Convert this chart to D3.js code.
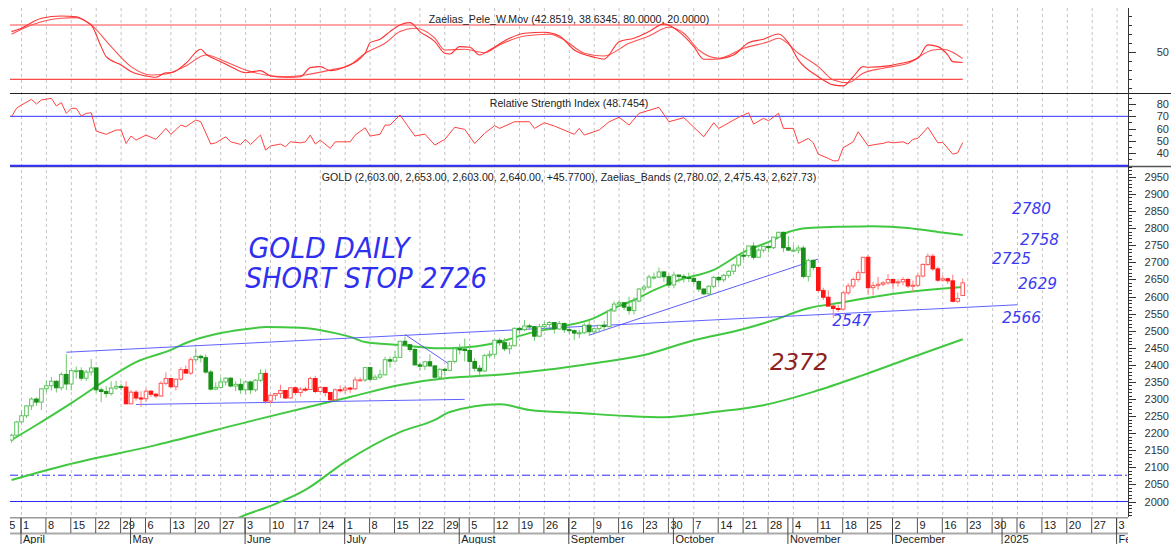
<!DOCTYPE html>
<html>
<head>
<meta charset="utf-8">
<script src="https://cdn.jsdelivr.net/npm/d3@7"></script>
<style>
body{margin:0;background:#fff}
svg{display:block;font-family:"Liberation Sans",Arial,sans-serif}
</style>
</head>
<body>
<div class="gold-chart"></div>
<script>
// trading calendar of the x axis (spot gold was shut on Good Friday)
const axisStart = "2024-03-25";
const axisEnd = "2025-02-07";
const closedDays = ["2024-03-29"];
const firstCandle = "2024-03-27";

// daily candles [open, high, low, close], one per trading day from firstCandle
const candles = [
[2180,2198,2172,2194],[2194,2236,2190,2233],
[2233,2266,2228,2251],[2251,2282,2244,2280],[2280,2305,2268,2300],[2300,2305,2280,2291],[2291,2331,2268,2330],
[2330,2354,2319,2339],[2339,2365,2325,2352],[2352,2355,2319,2333],[2333,2378,2325,2372],[2372,2431,2326,2344],
[2344,2386,2325,2383],[2383,2395,2360,2383],[2383,2393,2353,2361],[2361,2385,2353,2379],[2379,2417,2369,2391],
[2391,2392,2318,2327],[2327,2334,2291,2322],[2322,2338,2304,2316],[2316,2352,2310,2332],[2332,2353,2327,2337],
[2337,2345,2325,2335],[2335,2352,2285,2286],[2286,2326,2285,2320],[2320,2326,2295,2303],[2303,2323,2277,2301],
[2301,2331,2291,2323],[2323,2326,2306,2314],[2314,2318,2303,2309],[2309,2352,2306,2346],[2346,2378,2340,2360],
[2360,2362,2333,2336],[2336,2359,2325,2358],[2358,2393,2354,2386],[2386,2398,2373,2376],[2376,2422,2370,2415],
[2415,2450,2407,2425],[2425,2430,2407,2421],[2421,2431,2374,2379],[2379,2385,2325,2329],[2329,2349,2326,2334],
[2334,2364,2332,2350],[2350,2364,2340,2361],[2361,2364,2334,2338],[2338,2352,2323,2343],[2343,2360,2315,2327],
[2327,2354,2314,2350],[2350,2354,2315,2327],[2327,2358,2321,2355],[2355,2387,2350,2375],[2375,2387,2286,2294],
[2294,2313,2287,2311],[2311,2317,2297,2316],[2316,2342,2303,2325],[2325,2326,2300,2303],[2303,2333,2302,2333],
[2333,2334,2311,2319],[2319,2334,2307,2329],[2329,2336,2322,2328],[2328,2365,2327,2360],[2360,2368,2317,2322],
[2322,2337,2319,2334],[2334,2335,2308,2319],[2319,2320,2294,2298],[2298,2331,2294,2327],[2327,2340,2319,2326],
[2326,2340,2316,2332],[2332,2336,2318,2330],[2330,2365,2326,2356],[2356,2363,2352,2356],[2356,2392,2350,2392],
[2392,2393,2353,2358],[2358,2372,2355,2364],[2364,2386,2359,2371],[2371,2424,2369,2415],[2415,2424,2392,2411],
[2411,2440,2410,2422],[2422,2469,2421,2469],[2469,2483,2454,2459],[2459,2461,2438,2445],[2445,2451,2398,2400],
[2400,2406,2384,2396],[2396,2412,2385,2409],[2409,2431,2395,2397],[2397,2398,2353,2364],[2364,2390,2360,2387],
[2387,2392,2369,2384],[2384,2412,2381,2410],[2410,2451,2404,2447],[2447,2462,2431,2446],[2446,2477,2410,2442],
[2442,2461,2364,2410],[2410,2420,2381,2390],[2390,2400,2369,2382],[2382,2432,2379,2427],[2427,2442,2419,2431],
[2431,2475,2422,2472],[2472,2478,2457,2465],[2465,2478,2440,2447],[2447,2466,2431,2456],[2456,2509,2454,2507],
[2507,2510,2492,2503],[2503,2531,2499,2514],[2514,2520,2502,2512],[2512,2514,2470,2484],[2484,2520,2481,2512],
[2512,2527,2505,2518],[2518,2528,2507,2524],[2524,2525,2491,2505],[2505,2528,2503,2521],[2521,2524,2493,2503],
[2503,2507,2490,2500],[2500,2503,2472,2493],[2493,2503,2478,2494],[2494,2523,2490,2516],[2516,2529,2485,2497],
[2497,2508,2493,2506],[2506,2517,2494,2516],[2516,2529,2500,2512],[2512,2560,2510,2558],[2558,2586,2555,2578],
[2578,2590,2574,2582],[2582,2584,2560,2569],[2569,2600,2547,2559],[2559,2598,2547,2587],[2587,2625,2583,2622],
[2622,2634,2615,2628],[2628,2664,2624,2657],[2657,2670,2650,2657],[2657,2685,2654,2672],[2672,2674,2643,2658],
[2658,2665,2625,2634],[2634,2673,2624,2663],[2663,2664,2641,2659],[2659,2666,2641,2656],[2656,2670,2642,2653],
[2653,2660,2636,2644],[2644,2647,2614,2622],[2622,2624,2605,2608],[2608,2633,2603,2630],[2630,2661,2624,2656],
[2656,2660,2638,2649],[2649,2666,2642,2662],[2662,2677,2655,2674],[2674,2696,2664,2692],[2692,2722,2686,2721],
[2721,2740,2707,2720],[2720,2749,2714,2748],[2748,2759,2708,2715],[2715,2741,2714,2736],[2736,2748,2729,2747],
[2747,2749,2729,2743],[2743,2774,2739,2774],[2774,2790,2771,2788],[2788,2790,2730,2743],[2743,2777,2733,2736],
[2736,2750,2730,2736],[2736,2750,2726,2742],[2742,2749,2653,2659],[2659,2711,2644,2706],[2706,2709,2677,2685],
[2685,2686,2611,2618],[2618,2626,2590,2598],[2598,2618,2572,2572],[2572,2582,2537,2565],[2565,2576,2555,2563],
[2563,2614,2560,2611],[2611,2639,2605,2631],[2631,2656,2624,2650],[2650,2677,2643,2670],[2670,2716,2668,2715],
[2715,2721,2605,2626],[2626,2643,2603,2632],[2632,2658,2620,2636],[2636,2645,2630,2640],[2640,2666,2635,2650],
[2650,2651,2621,2640],[2640,2651,2629,2643],[2643,2657,2633,2650],[2650,2655,2625,2631],[2631,2647,2613,2633],
[2633,2667,2628,2660],[2660,2697,2656,2694],[2694,2726,2690,2718],[2718,2725,2675,2681],[2681,2688,2643,2648],
[2648,2662,2643,2652],[2652,2655,2637,2646],[2646,2664,2583,2586],[2586,2612,2582,2594],[2603,2653,2603,2640]
];

// stretches where the system paints candles red
const redSpans = [["2024-04-30","2024-05-17"],["2024-06-07","2024-07-04"],["2024-11-11","2024-12-20"]];

// Zaelias bands, [trading day after 1 Apr 2024, price]
const upperBand = [[-2,2180],[3,2224],[10,2288],[17,2356],[23,2408],[30,2444],[33,2464],[40,2493],[47,2508],
  [49,2511],[56,2509],[63,2493],[66,2482],[69,2467],[76,2458],[83,2449],[86,2449],[90,2452],[93,2458],[96,2467],
  [102,2493],[108,2511],[115,2537],[119,2566],[123,2590],[127,2619],[132,2648],[139,2678],[145,2730],[151,2766],
  [154,2789],[158,2801],[164,2804],[171,2806],[178,2801],[184,2789],[189,2780]];
const middleBand = [[-2,2063],[9,2107],[27,2165],[47,2239],[66,2306],[76,2341],[86,2362],[95,2370],[105,2385],
  [115,2405],[125,2429],[135,2472],[145,2505],[151,2531],[158,2566],[164,2581],[171,2599],[178,2613],[184,2622],[189,2628]];
const lowerBand = [[40,1925],[44,1955],[50,1987],[57,2034],[65,2116],[76,2203],[83,2239],[86,2262],[96,2285],
  [102,2268],[112,2259],[122,2250],[129,2247],[139,2262],[149,2282],[159,2321],[169,2370],[179,2423],[189,2475]];

// Zaelias_Pele_W.Mov, two lines
const wmovFast = [[-2,72.7],[0,76.4],[2,82.6],[4,87.5],[8,90],[11,89.2],[13,83.7],[14,80.1],[16,56.1],[17,45],
  [20,35.9],[22,28.5],[25,23.7],[27,22.3],[29,27.3],[30,27.3],[33,37.7],[36,53.2],[37,48],[40,39.5],[42,34],
  [45,27.3],[48,29.6],[50,23.7],[53,22.3],[56,22.9],[58,32.9],[60,34],[62,29.6],[65,34],[69,48.8],[70,60.5],
  [72,64.3],[74,72.7],[76,80.1],[78,82.6],[80,72.7],[83,61.6],[85,48.8],[86,48],[88,56.1],[90,55.4],[92,46.9],
  [94,52.4],[98,65.4],[101,70.9],[105,72],[108,67.9],[111,52.4],[115,44.4],[117,42.2],[120,61.6],[123,65.4],
  [126,72.7],[129,81.2],[132,72.7],[135,56.1],[137,42.2],[139,42.2],[143,46.9],[146,60.5],[149,64.3],[152,70.1],
  [154,60.5],[156,41.4],[160,22.9],[163,13.8],[165,12.7],[167,22.9],[169,34],[170,33.3],[174,34.8],[176,37],
  [180,43.3],[182,58],[184,56.1],[186,46.9],[187,39.5],[189,38.63]];
const wmovSlow = [[-2,69.8],[2,80.1],[8,87.5],[11,88.1],[14,80.1],[18,56.1],[22,34],[26,24.8],[29,25.9],[33,34.8],
  [37,46.9],[41,39.5],[45,30.3],[49,24.8],[53,22.9],[57,24.8],[62,30.3],[66,35.9],[69,48.8],[73,59.8],[76,72.7],
  [79,76.4],[83,65.4],[85,52.4],[89,53.2],[93,49.4],[96,58],[101,67.9],[106,69.8],[109,63.5],[113,48.8],[117,45.8],
  [122,59.8],[126,67.9],[130,77.5],[133,70.9],[136,52.4],[140,43.3],[145,54.3],[150,61.6],[152,65.4],[156,48.8],
  [160,34],[163,19.3],[166,16.3],[169,26.7],[173,32.2],[178,37.7],[183,52.4],[185,53.2],[189,42.85]];
const wmovLevels = [80, 20];

// Relative Strength Index
const rsiLine = [[-2,69.7],[-1,76.5],[0,79.2],[2,83.8],[3,80],[4,83.3],[6,84.6],[7,78.4],[8,81.1],[9,72.4],
  [10,76.5],[11,76.5],[12,70.2],[13,72.4],[14,72.9],[15,58],[17,55.4],[19,58.9],[20,58.9],[21,48],[22,54],
  [23,50.7],[25,54.8],[27,51.3],[29,60.2],[30,55.4],[32,62.9],[33,61.5],[35,67],[36,65.6],[38,47.5],[39,48.5],
  [41,53.4],[42,49.3],[44,47.2],[45,51.3],[46,47.2],[48,54.8],[49,42.6],[50,45.9],[52,47.5],[53,45.3],[54,49.3],
  [56,48.5],[57,49.3],[58,54.8],[59,47.5],[60,50.7],[62,44],[63,49.3],[66,49.3],[67,54.8],[69,60.7],[70,54],
  [72,55.4],[73,62.9],[74,62.9],[76,71.1],[79,54],[81,55.6],[83,46.7],[85,51.3],[87,61.1],[89,59.4],[91,48],
  [93,56.2],[95,62.4],[96,60.2],[99,65.6],[102,65.6],[103,60.2],[105,64.8],[107,62.1],[111,55.4],[112,60.2],
  [113,54.8],[116,58.9],[118,65.6],[120,69.2],[122,62.9],[124,72.4],[128,77.3],[130,65.6],[133,68.9],[137,53.4],
  [139,64.8],[140,60.2],[144,69.2],[146,72.9],[147,63.7],[149,68.4],[150,66.4],[152,72.4],[153,60.2],[155,60.2],
  [156,48],[158,52.1],[159,48.5],[160,39.3],[162,35.9],[163,33.9],[164,33.9],[165,44.5],[167,49.3],[168,57.5],
  [170,46.1],[172,47.5],[173,48],[174,49.3],[175,48.5],[177,49.3],[178,47.5],[179,51.3],[180,52.1],[182,61.1],
  [184,48.5],[185,48.8],[187,39.3],[188,40.4],[189,48.75]];
const rsiLevels = [70, 30];

// hand drawn trend lines and horizontal levels
const trendLines = [[[9,2437],[200,2576]],[[23,2284],[89,2299]],[[77,2489],[86,2401]],[[114,2487],[160,2710]]];
const supportLevel = 2000;
const dashedLevel = 2077;

// hand written notes, anchored at [trading day, price]
const notes = [
  {text:"GOLD DAILY", day:45.6, price:2713, kind:"big"},
  {text:"SHORT STOP 2726", day:45.0, price:2625, kind:"big"},
  {text:"2372", day:150.3, price:2385, kind:"red"},
  {text:"2780", day:198.9, price:2842, kind:"small"},
  {text:"2758", day:200.5, price:2751, kind:"small"},
  {text:"2725", day:194.9, price:2695, kind:"small"},
  {text:"2629", day:200.1, price:2622, kind:"small"},
  {text:"2566", day:196.9, price:2523, kind:"small"},
  {text:"2547", day:162.8, price:2514, kind:"small"}
];

const titleWmov = "Zaelias_Pele_W.Mov (42.8519, 38.6345, 80.0000, 20.0000)";
const titleRsi = "Relative Strength Index (48.7454)";
const titleGold = "GOLD (2,603.00, 2,653.00, 2,603.00, 2,640.00, +45.7700), Zaelias_Bands (2,780.02, 2,475.43, 2,627.73)";

const W = 1171, H = 544;
const left = 10, right = 1128;
const parse = d3.timeParse("%Y-%m-%d"), fmt = d3.timeFormat("%Y-%m-%d");

const days = d3.timeDays(parse(axisStart), d3.timeDay.offset(parse(axisEnd), 1))
  .filter(d => d.getDay() !== 0 && d.getDay() !== 6 && !closedDays.includes(fmt(d)));
const dayKeys = days.map(fmt);
const base = dayKeys.indexOf("2024-04-01");
const dayOf = s => dayKeys.indexOf(s) - base;

const x = d3.scaleLinear().domain([0, 220]).range([21.5, 1117.1]);
const yP = d3.scaleLinear().domain([2000, 2950]).range([501.5, 177]);
const yW = d3.scaleLinear().domain([20, 80]).range([79.3, 25]);
const yR = d3.scaleLinear().domain([40, 80]).range([153.3, 104]);

const svg = d3.select(".gold-chart").append("svg")
  .attr("width", W).attr("height", H);

const defs = svg.append("defs");
function clip(id, y0, y1) {
  defs.append("clipPath").attr("id", id).append("rect")
    .attr("x", left).attr("y", y0).attr("width", right - left).attr("height", y1 - y0);
  return `url(#${id})`;
}
const clipTop = clip("c-top", 0, 93);
const clipRsi = clip("c-rsi", 93, 166);
const clipMain = clip("c-main", 166, 517);
const clipAxis = clip("c-axis", 517, 544);

// weekly grid lines
const mondays = days.map((d, i) => ({d, day: i - base})).filter(o => o.d.getDay() === 1);
svg.append("g").selectAll("line").data(mondays.filter(o => x(o.day) > left && x(o.day) < right))
  .join("line")
  .attr("x1", o => x(o.day)).attr("x2", o => x(o.day))
  .attr("y1", 8).attr("y2", 517)
  .attr("stroke", "#c4c4c4").attr("stroke-dasharray", "3,3");

// ---------- top panel: W.Mov ----------
const wmovG = svg.append("g").attr("clip-path", clipTop);
wmovG.selectAll(".lvl").data(wmovLevels).join("line")
  .attr("x1", left).attr("x2", x(189))
  .attr("y1", d => yW(d)).attr("y2", d => yW(d))
  .attr("stroke", "#ff4a4a").attr("stroke-width", 1.2);
const wLine = d3.line().x(d => x(d[0])).y(d => yW(d[1])).curve(d3.curveMonotoneX);
wmovG.append("path").datum(wmovSlow).attr("d", wLine)
  .attr("fill", "none").attr("stroke", "#ff5252").attr("stroke-width", 1.1);
wmovG.append("path").datum(wmovFast).attr("d", wLine)
  .attr("fill", "none").attr("stroke", "#ff3030").attr("stroke-width", 1.1);

// ---------- RSI panel ----------
const rsiG = svg.append("g").attr("clip-path", clipRsi);
rsiG.append("line").attr("x1", left).attr("x2", right)
  .attr("y1", yR(rsiLevels[0])).attr("y2", yR(rsiLevels[0]))
  .attr("stroke", "#3030ff").attr("stroke-width", 1);
rsiG.append("path").datum(rsiLine)
  .attr("d", d3.line().x(d => x(d[0])).y(d => yR(d[1])))
  .attr("fill", "none").attr("stroke", "#ff4040").attr("stroke-width", 1);

// panel separators
svg.append("line").attr("x1", left).attr("x2", W).attr("y1", 93.5).attr("y2", 93.5)
  .attr("stroke", "#222").attr("stroke-width", 1);
svg.append("line").attr("x1", left).attr("x2", W).attr("y1", 166.5).attr("y2", 166.5)
  .attr("stroke", "#555").attr("stroke-width", 1.5);
svg.append("line").attr("x1", left).attr("x2", right).attr("y1", yR(rsiLevels[1])).attr("y2", yR(rsiLevels[1]))
  .attr("stroke", "#3030ff").attr("stroke-width", 2);

// ---------- main panel ----------
const mainG = svg.append("g").attr("clip-path", clipMain);

mainG.append("line").attr("x1", left).attr("x2", right)
  .attr("y1", yP(dashedLevel)).attr("y2", yP(dashedLevel))
  .attr("stroke", "#2a2aff").attr("stroke-dasharray", "8,3,2,3");
mainG.append("line").attr("x1", left).attr("x2", right)
  .attr("y1", yP(supportLevel)).attr("y2", yP(supportLevel))
  .attr("stroke", "#2a2aff").attr("stroke-width", 1.2);

const bandLine = d3.line().x(d => x(d[0])).y(d => yP(d[1])).curve(d3.curveMonotoneX);
mainG.selectAll(".band").data([upperBand, middleBand, lowerBand]).join("path")
  .attr("d", bandLine).attr("fill", "none")
  .attr("stroke", "#40c840").attr("stroke-width", 2);

mainG.selectAll(".trend").data(trendLines).join("line")
  .attr("x1", d => x(d[0][0])).attr("y1", d => yP(d[0][1]))
  .attr("x2", d => x(d[1][0])).attr("y2", d => yP(d[1][1]))
  .attr("stroke", "#4646ff").attr("stroke-width", 1).attr("opacity", 0.85);

const first = dayOf(firstCandle);
const bars = candles.map((c, i) => {
  const key = dayKeys[base + first + i];
  return {day: first + i, o: c[0], h: c[1], l: c[2], c: c[3],
    red: redSpans.some(s => key >= s[0] && key <= s[1])};
});
const colr = b => b.red ? (b.c >= b.o ? "#ff5a5a" : "#ff1414") : (b.c >= b.o ? "#5cc25c" : "#1a8f1a");
const wick = b => b.red ? "#ff7a7a" : "#70c870";
const bw = 3.6;

mainG.append("g").selectAll("line").data(bars).join("line")
  .attr("x1", b => x(b.day)).attr("x2", b => x(b.day))
  .attr("y1", b => yP(b.h)).attr("y2", b => yP(b.l))
  .attr("stroke", wick).attr("stroke-width", 1);
mainG.append("g").selectAll("rect").data(bars).join("rect")
  .attr("x", b => x(b.day) - bw / 2)
  .attr("y", b => yP(Math.max(b.o, b.c)))
  .attr("width", bw)
  .attr("height", b => Math.max(1, Math.abs(yP(b.o) - yP(b.c))))
  .attr("fill", b => b.c >= b.o ? "#fff" : colr(b))
  .attr("stroke", colr).attr("stroke-width", 1);

// notes
const noteStyle = {
  big: {size: 28, fill: "#2f2ff0", width: t => t.length * 16.1},
  red: {size: 23, fill: "#8e1f1f", width: () => 58},
  small: {size: 16, fill: "#3a3af2", width: () => 39}
};
svg.append("g").selectAll("text").data(notes).join("text")
  .attr("x", d => x(d.day)).attr("y", d => yP(d.price))
  .attr("font-family", "DejaVu Sans")
  .attr("font-style", "italic")
  .attr("font-weight", 200)
  .attr("font-size", d => noteStyle[d.kind].size)
  .attr("fill", d => noteStyle[d.kind].fill)
  .attr("textLength", d => noteStyle[d.kind].width(d.text))
  .attr("lengthAdjust", "spacingAndGlyphs")
  .text(d => d.text);

// titles
const titles = [[titleWmov, 23], [titleRsi, 107], [titleGold, 181]];
svg.append("g").selectAll("text").data(titles).join("text")
  .attr("x", (left + right) / 2).attr("y", d => d[1])
  .attr("text-anchor", "middle").attr("font-size", 10.6).attr("fill", "#222")
  .text(d => d[0]);

// ---------- right axis ----------
const ax = svg.append("g").attr("font-size", 11).attr("fill", "#333");
ax.append("line").attr("x1", right + 0.5).attr("x2", right + 0.5).attr("y1", 8).attr("y2", 517)
  .attr("stroke", "#333");
function ticks(scale, vals, major, label) {
  ax.append("g").selectAll("line").data(vals).join("line")
    .attr("x1", right).attr("x2", v => right + (major(v) ? 8 : 4))
    .attr("y1", v => Math.round(scale(v)) + 0.5).attr("y2", v => Math.round(scale(v)) + 0.5)
    .attr("stroke", "#333");
  ax.append("g").selectAll("text").data(vals.filter(label)).join("text")
    .attr("x", 1169).attr("y", v => scale(v) + 4).attr("text-anchor", "end")
    .text(v => v);
}
ticks(yW, d3.range(10, 100, 10), v => v === 50, v => v === 50);
ticks(yR, d3.range(35, 90, 5), v => v % 10 === 0, v => v % 10 === 0 && v >= 40 && v <= 80);
ticks(yP, d3.range(1960, 2990, 10), v => v % 50 === 0, v => v % 50 === 0 && v >= 2000 && v <= 2950);

// ---------- bottom date axis ----------
const bx = svg.append("g").attr("clip-path", clipAxis).attr("font-size", 11).attr("fill", "#222");
bx.append("line").attr("x1", left).attr("x2", right).attr("y1", 517.5).attr("y2", 517.5)
  .attr("stroke", "#999").attr("stroke-width", 2);
bx.append("line").attr("x1", left).attr("x2", right).attr("y1", 533.5).attr("y2", 533.5)
  .attr("stroke", "#aaa").attr("stroke-width", 2);
bx.selectAll(".wk").data(mondays).join("line")
  .attr("x1", o => x(o.day) - 0.5).attr("x2", o => x(o.day) - 0.5)
  .attr("y1", 518).attr("y2", 533).attr("stroke", "#555");
bx.selectAll(".wkt").data(mondays).join("text")
  .attr("x", o => x(o.day) + 1.5).attr("y", 529)
  .text(o => o.d.getDate());
const monthStarts = days.map((d, i) => ({d, day: i - base}))
  .filter((o, i, a) => i > 0 && o.d.getMonth() !== a[i - 1].d.getMonth());
bx.selectAll(".mo").data(monthStarts).join("line")
  .attr("x1", o => x(o.day) - 0.5).attr("x2", o => x(o.day) - 0.5)
  .attr("y1", 518).attr("y2", 544).attr("stroke", "#444");
bx.selectAll(".mot").data(monthStarts).join("text")
  .attr("x", o => x(o.day) + 1.5).attr("y", 543)
  .text(o => o.d.getMonth() === 0 ? o.d.getFullYear() : d3.timeFormat("%B")(o.d));
</script>
</body>
</html>
